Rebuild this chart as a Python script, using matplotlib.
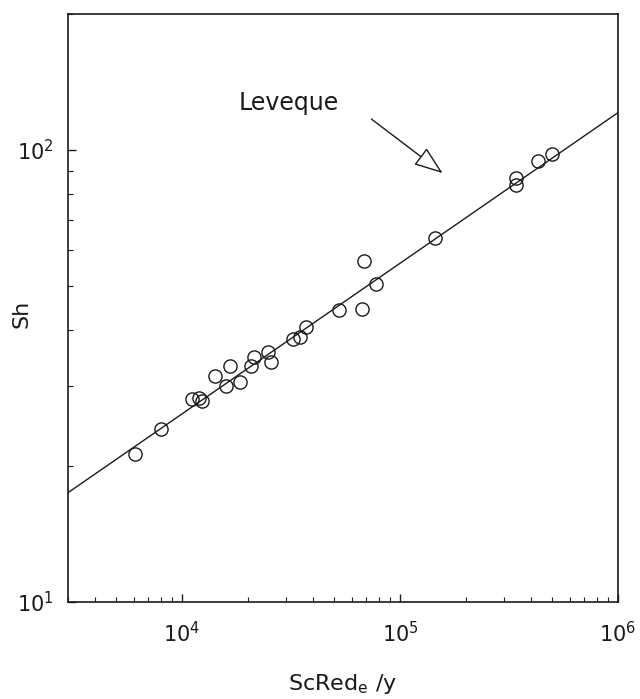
import numpy as np
import matplotlib
matplotlib.use("Agg")
import matplotlib.pyplot as plt
from matplotlib.ticker import LogLocator, NullFormatter

plt.rcParams['font.family'] = ['DejaVu Sans']
plt.rcParams['mathtext.fontset'] = 'dejavusans'

# measured points (ScRe d/y, Sh)
sc_re_dy = [6060, 8030, 11080, 11970, 12400, 14180, 15980, 16570, 18480,
            20830, 21430, 24930, 25570, 32150, 34870, 37170, 52700, 66730,
            77740, 68670, 144100, 342200, 342200, 427300, 498900]
sh = [21.2, 24.2, 28.1, 28.2, 27.9, 31.7, 30.1, 33.2, 30.7,
      33.3, 34.9, 35.8, 34.0, 38.1, 38.6, 40.6, 44.3, 44.5,
      50.5, 56.9, 63.8, 86.6, 83.7, 94.6, 98.0]

# Leveque line: Sh = C * (ScRe d/y)^(1/3)
leveque_c = 1.21
x_range = [3e3, 1e6]
y_range = [10, 200]

ink = '#1a1a1a'

fig = plt.figure(figsize=(6.4, 6.99), dpi=100)
ax = fig.add_axes([0.10625, 0.1388, 0.8594, 0.8412])
ax.set_xscale('log')
ax.set_yscale('log')
ax.set_xlim(x_range)
ax.set_ylim(y_range)

xl = np.logspace(np.log10(x_range[0]), np.log10(x_range[1]), 50)
ax.plot(xl, leveque_c * xl ** (1 / 3), color=ink, lw=1.0)

ax.plot(sc_re_dy, sh, 'o', ms=9.5, mfc='none', mec=ink, mew=1.0)

# annotation
ax.text(18280, 127, 'Leveque', fontsize=17, color=ink, va='center', ha='left')
ax.annotate('', xy=(156800, 88.9), xytext=(73960, 117.1),
            arrowprops=dict(arrowstyle='-|>,head_length=0.9,head_width=0.33',
                            mutation_scale=20, fc='white', ec=ink, lw=1.0,
                            shrinkA=0, shrinkB=0))

ax.xaxis.set_major_locator(LogLocator(base=10, numticks=10))
ax.xaxis.set_minor_locator(LogLocator(base=10, subs=np.arange(2, 10), numticks=20))
ax.yaxis.set_minor_locator(LogLocator(base=10, subs=np.arange(2, 10), numticks=20))
ax.xaxis.set_minor_formatter(NullFormatter())
ax.yaxis.set_minor_formatter(NullFormatter())

ax.tick_params(which='both', direction='in', top=False, right=False,
               colors=ink, labelsize=15)
ax.tick_params(which='major', length=6, width=1.0)
ax.tick_params(which='minor', length=3.5, width=0.8)
ax.tick_params(axis='x', which='major', pad=14)
ax.tick_params(axis='y', which='major', pad=10)

for s in ax.spines.values():
    s.set_linewidth(1.2)
    s.set_color(ink)

ax.set_xlabel(r'ScRed$_{\rm e}$ /y', fontsize=16, color=ink, labelpad=18)
ax.set_ylabel('Sh', fontsize=16, color=ink)
ax.yaxis.set_label_coords(-0.067, 0.49)

fig.savefig('out.png', dpi=100, facecolor='white')
